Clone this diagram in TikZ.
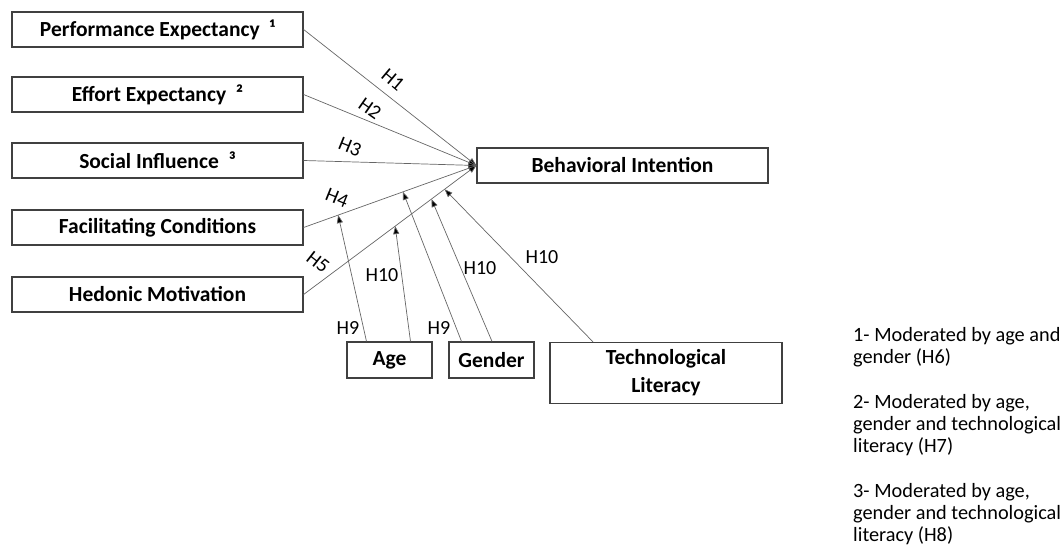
\documentclass[tikz,border=0pt]{standalone}
\usepackage{fontspec}
\setmainfont{Carlito}
\usetikzlibrary{arrows.meta,calc}
\begin{document}
\begin{tikzpicture}[x=1pt,y=-1pt,
  box/.style={draw=black!75, line width=1.2pt, fill=white, minimum height=35pt,
    inner sep=0pt, font=\fontsize{21.5}{25}\selectfont\bfseries, align=center},
  path/.style={draw=black!60, line width=0.7pt, -{Triangle[length=8pt,width=6pt,fill=black]}},
  mod/.style={draw=black!60, line width=0.7pt, -{Triangle[length=8pt,width=6pt,fill=black]}},
  hlab/.style={font=\fontsize{20}{22}\selectfont, inner sep=0pt},
  note/.style={font=\fontsize{20.3}{22}\selectfont, align=left, anchor=north west, inner sep=0pt}]
\useasboundingbox (0,0) rectangle (1061,553);

% constructs
\node[box, minimum width=291pt] (PE) at (157.5,29.5) {Performance Expectancy \ ¹};
\node[box, minimum width=291pt] (EE) at (157.5,94.5) {Effort Expectancy \ ²};
\node[box, minimum width=291pt] (SI) at (157.5,160.5) {Social Influence \ ³};
\node[box, minimum width=291pt] (FC) at (157.5,227.5) {Facilitating Conditions};
\node[box, minimum width=291pt] (HM) at (157.5,294.5) {Hedonic Motivation};
\node[box, minimum width=291pt] (BI) at (622.5,165.5) {Behavioral Intention};

% moderators
\node[box, minimum width=85pt, minimum height=36pt] (Age) at (389.5,360) {Age};
\node[box, minimum width=85pt, minimum height=36pt] (Gen) at (491.5,360) {Gender};
\node[box, minimum width=232pt, minimum height=61pt, font=\fontsize{21.5}{28}\selectfont\bfseries] (TL) at (666,373) {Technological\\Literacy};

% direct paths
\draw[path] (PE.east) -- (BI.west);
\draw[path] (EE.east) -- (BI.west);
\draw[path] (SI.east) -- (BI.west);
\draw[path] (FC.east) -- (BI.west);
\draw[path] (HM.east) -- (BI.west);

% moderation points on the paths
\coordinate (fcA) at ($(FC.east)!0.20!(BI.west)$);
\coordinate (fcG) at ($(FC.east)!0.575!(BI.west)$);
\coordinate (hmA) at ($(HM.east)!0.53!(BI.west)$);
\coordinate (hmG) at ($(HM.east)!0.74!(BI.west)$);
\coordinate (hmT) at ($(HM.east)!0.816!(BI.west)$);

\draw[mod] ([xshift=-23pt]Age.north) -- (fcA);
\draw[mod] ([xshift=21pt]Age.north) -- (hmA);
\draw[mod] ([xshift=-30pt]Gen.north) -- (fcG);
\draw[mod] ([xshift=0.5pt]Gen.north) -- (hmG);
\draw[mod] ([xshift=-73pt]TL.north) -- (hmT);

% hypothesis labels
\node[hlab, rotate=-40] (h1) at (393,80) {H1};
\node[hlab, rotate=-35] (h2) at (370,109) {H2};
\node[hlab, rotate=-22] (h3) at (350,147) {H3};
\node[hlab, rotate=-22] (h4) at (337,198) {H4};
\node[hlab, rotate=-38] (h5) at (318,262) {H5};
\node[hlab] (h10a) at (382,275) {H10};
\node[hlab] (h10b) at (480,268) {H10};
\node[hlab] (h10c) at (542,257) {H10};
\node[hlab] (h9a) at (348,328) {H9};
\node[hlab] (h9b) at (439,328) {H9};

% notes
\node[note] (n1) at (853,327) {1- Moderated by age and\\gender (H6)};
\node[note] (n2) at (853,394) {2- Moderated by age,\\gender and technological\\literacy (H7)};
\node[note] (n3) at (853,483) {3- Moderated by age,\\gender and technological\\literacy (H8)};
\end{tikzpicture}
\end{document}
